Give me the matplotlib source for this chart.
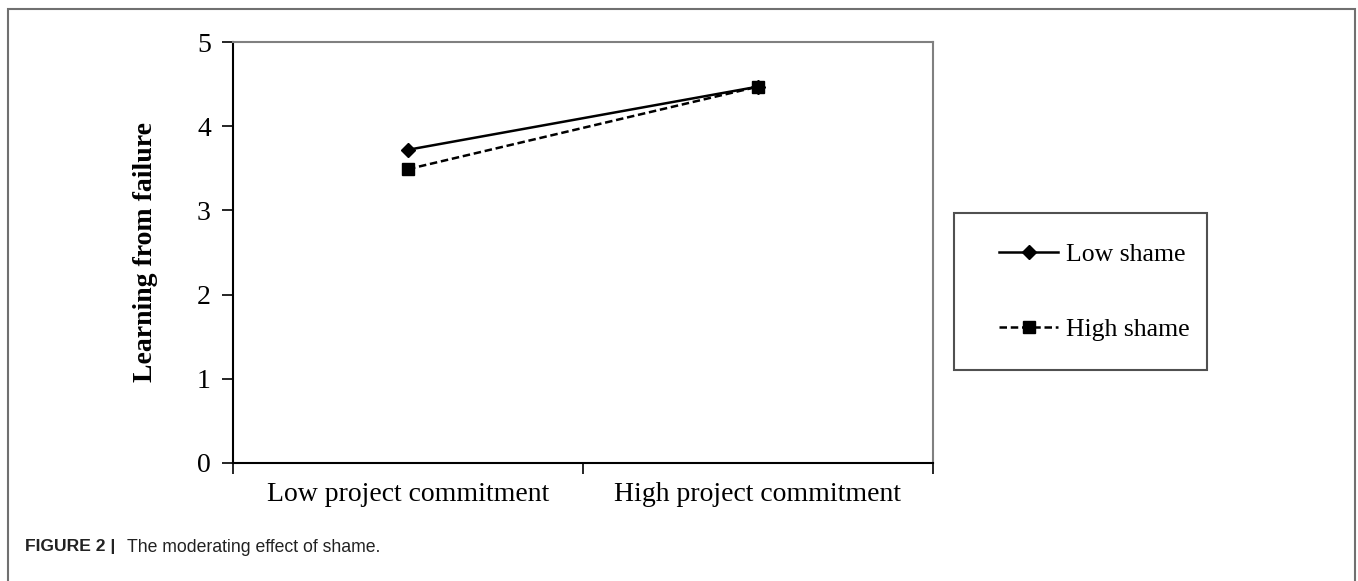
import matplotlib
matplotlib.use("Agg")
import matplotlib.pyplot as plt
from matplotlib.patches import Rectangle

categories = ['Low project commitment', 'High project commitment']
low_shame = [3.72, 4.47]
high_shame = [3.49, 4.47]
y_ticks = [0, 1, 2, 3, 4, 5]

plt.rcParams['font.family'] = ['Liberation Serif', 'DejaVu Serif']

fig = plt.figure(figsize=(13.58, 5.81), dpi=100)
W, H = 1358, 581

# outer frame of the figure panel
fig.patches.append(Rectangle((8 / W, -0.01), (1355 - 8) / W, 1.01 - 9 / H,
                             transform=fig.transFigure, fill=False,
                             edgecolor='#707070', linewidth=1.5))

ax = fig.add_axes([233 / W, 1 - 463 / H, (933 - 233) / W, (463 - 42) / H])
x = [0.5, 1.5]
ax.plot(x, low_shame, color='black', linestyle='-', linewidth=1.8,
        marker='D', markersize=7, label='Low shame')
ax.plot(x, high_shame, color='black', linestyle=(0, (3, 1.5)), linewidth=1.8,
        marker='s', markersize=8, label='High shame')

ax.set_xlim(0, 2)
ax.set_ylim(0, 5)
ax.set_xticks([0, 1, 2])
ax.set_xticklabels([])
ax.set_xticks(x, minor=True)
ax.set_xticklabels(categories, minor=True, fontsize=20)
ax.tick_params(axis='x', which='minor', length=0, pad=14)
ax.tick_params(axis='x', which='major', length=8, width=1.2, direction='out')
ax.set_yticks(y_ticks)
ax.tick_params(axis='y', length=8, width=1.2, direction='out', labelsize=20, pad=8)

ax.spines['left'].set_linewidth(1.5)
ax.spines['bottom'].set_linewidth(1.5)
ax.spines['top'].set_color('#808080')
ax.spines['right'].set_color('#808080')
ax.spines['top'].set_linewidth(1.5)
ax.spines['right'].set_linewidth(1.5)

ax.set_ylabel('Learning from failure', fontsize=20, fontweight='bold', labelpad=28)

# legend box drawn separately, entries placed inside it
fig.patches.append(Rectangle((954 / W, 1 - 370 / H), (1207 - 954) / W, (370 - 213) / H,
                             transform=fig.transFigure, fill=False,
                             edgecolor='#505050', linewidth=1.5))
leg = fig.legend(loc='center left', bbox_to_anchor=(999 / W, 1 - 292 / H),
                 fontsize=18.5, frameon=False, handlelength=2.3,
                 labelspacing=2.0, borderpad=0, borderaxespad=0, handletextpad=0.3)

cap_font = ['Liberation Sans', 'DejaVu Sans']
fig.text(25 / W, 1 - 547 / H, 'FIGURE 2 |', fontsize=12.6, fontweight='bold',
         family=cap_font, color='#222222', va='center')
fig.text(127 / W, 1 - 547 / H, 'The moderating effect of shame.', fontsize=12.7,
         family=cap_font, color='#222222', va='center')

fig.savefig('out.png', dpi=100, facecolor='white')
